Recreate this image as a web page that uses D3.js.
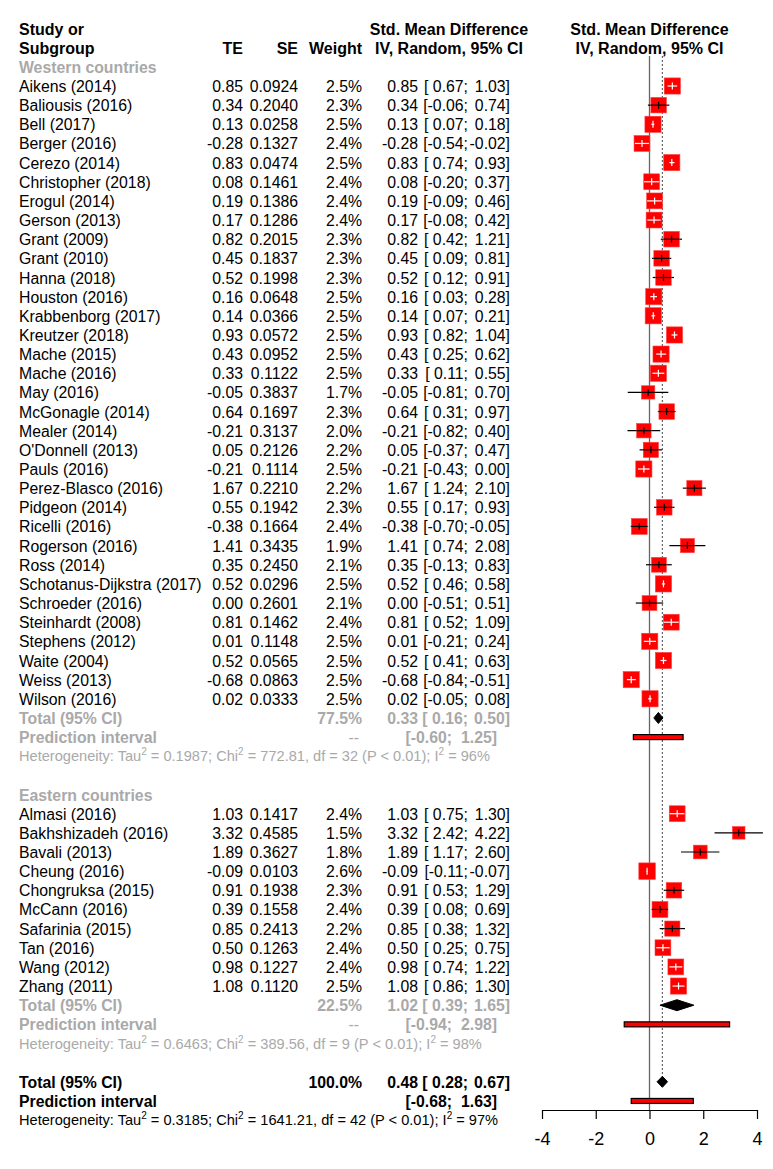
<!DOCTYPE html>
<html>
<head>
<meta charset="utf-8">
<script src="https://cdn.jsdelivr.net/npm/d3@7"></script>
<style>
  body { margin: 0; background: #fff; }
  svg { font-family: "Liberation Sans", Arial, sans-serif; }
</style>
</head>
<body>
<div id="chart"></div>
<script>
// ---- data ----
var westStudies = ["Aikens (2014)", "Baliousis (2016)", "Bell (2017)", "Berger (2016)", "Cerezo (2014)",
  "Christopher (2018)", "Erogul (2014)", "Gerson (2013)", "Grant (2009)", "Grant (2010)", "Hanna (2018)",
  "Houston (2016)", "Krabbenborg (2017)", "Kreutzer (2018)", "Mache (2015)", "Mache (2016)", "May (2016)",
  "McGonagle (2014)", "Mealer (2014)", "O'Donnell (2013)", "Pauls (2016)", "Perez-Blasco (2016)",
  "Pidgeon (2014)", "Ricelli (2016)", "Rogerson (2016)", "Ross (2014)", "Schotanus-Dijkstra (2017)",
  "Schroeder (2016)", "Steinhardt (2008)", "Stephens (2012)", "Waite (2004)", "Weiss (2013)", "Wilson (2016)"];
var westTE = [0.85, 0.34, 0.13, -0.28, 0.83, 0.08, 0.19, 0.17, 0.82, 0.45, 0.52, 0.16, 0.14, 0.93, 0.43, 0.33,
  -0.05, 0.64, -0.21, 0.05, -0.21, 1.67, 0.55, -0.38, 1.41, 0.35, 0.52, 0.00, 0.81, 0.01, 0.52, -0.68, 0.02];
var westSE = [0.0924, 0.2040, 0.0258, 0.1327, 0.0474, 0.1461, 0.1386, 0.1286, 0.2015, 0.1837, 0.1998, 0.0648,
  0.0366, 0.0572, 0.0952, 0.1122, 0.3837, 0.1697, 0.3137, 0.2126, 0.1114, 0.2210, 0.1942, 0.1664, 0.3435,
  0.2450, 0.0296, 0.2601, 0.1462, 0.1148, 0.0565, 0.0863, 0.0333];
var westWeight = [2.5, 2.3, 2.5, 2.4, 2.5, 2.4, 2.4, 2.4, 2.3, 2.3, 2.3, 2.5, 2.5, 2.5, 2.5, 2.5, 1.7, 2.3, 2.0,
  2.2, 2.5, 2.2, 2.3, 2.4, 1.9, 2.1, 2.5, 2.1, 2.4, 2.5, 2.5, 2.5, 2.5];
var westLower = [0.67, -0.06, 0.07, -0.54, 0.74, -0.20, -0.09, -0.08, 0.42, 0.09, 0.12, 0.03, 0.07, 0.82, 0.25,
  0.11, -0.81, 0.31, -0.82, -0.37, -0.43, 1.24, 0.17, -0.70, 0.74, -0.13, 0.46, -0.51, 0.52, -0.21, 0.41, -0.84, -0.05];
var westUpper = [1.03, 0.74, 0.18, -0.02, 0.93, 0.37, 0.46, 0.42, 1.21, 0.81, 0.91, 0.28, 0.21, 1.04, 0.62,
  0.55, 0.70, 0.97, 0.40, 0.47, 0.00, 2.10, 0.93, -0.05, 2.08, 0.83, 0.58, 0.51, 1.09, 0.24, 0.63, -0.51, 0.08];

var eastStudies = ["Almasi (2016)", "Bakhshizadeh (2016)", "Bavali (2013)", "Cheung (2016)", "Chongruksa (2015)",
  "McCann (2016)", "Safarinia (2015)", "Tan (2016)", "Wang (2012)", "Zhang (2011)"];
var eastTE = [1.03, 3.32, 1.89, -0.09, 0.91, 0.39, 0.85, 0.50, 0.98, 1.08];
var eastSE = [0.1417, 0.4585, 0.3627, 0.0103, 0.1938, 0.1558, 0.2413, 0.1263, 0.1227, 0.1120];
var eastWeight = [2.4, 1.5, 1.8, 2.6, 2.3, 2.4, 2.2, 2.4, 2.4, 2.5];
var eastLower = [0.75, 2.42, 1.17, -0.11, 0.53, 0.08, 0.38, 0.25, 0.74, 0.86];
var eastUpper = [1.30, 4.22, 2.60, -0.07, 1.29, 0.69, 1.32, 0.75, 1.22, 1.30];

// pooled: [weight, estimate, lower, upper, pi lower, pi upper, tau2, chi2, df, I2]
var groupNames = ["Western countries", "Eastern countries"];
var westPooled = [77.5, 0.33, 0.16, 0.50, -0.60, 1.25, "0.1987", "772.81", 32, 96];
var eastPooled = [22.5, 1.02, 0.39, 1.65, -0.94, 2.98, "0.6463", "389.56", 9, 98];
var allPooled = [100.0, 0.48, 0.28, 0.67, -0.68, 1.63, "0.3185", "1641.21", 42, 97];

var tickValues = [-4, -2, 0, 2, 4];

// ---- layout ----
var width = 773, height = 1169;
var grey = "#a9a9a9";

var svg = d3.select("#chart").append("svg")
  .attr("width", width)
  .attr("height", height);

// rows: index 0 = first study; header rows are negative
var rows = [];
rows.push({type: "group", label: groupNames[0]});
westStudies.forEach(function(s, i) {
  rows.push({type: "study", label: s, te: westTE[i], se: westSE[i], w: westWeight[i], lo: westLower[i], hi: westUpper[i]});
});
rows.push({type: "total", p: westPooled, sub: true});
rows.push({type: "pi", p: westPooled, sub: true});
rows.push({type: "het", p: westPooled, sub: true});
rows.push({type: "blank"});
rows.push({type: "group", label: groupNames[1]});
eastStudies.forEach(function(s, i) {
  rows.push({type: "study", label: s, te: eastTE[i], se: eastSE[i], w: eastWeight[i], lo: eastLower[i], hi: eastUpper[i]});
});
rows.push({type: "total", p: eastPooled, sub: true});
rows.push({type: "pi", p: eastPooled, sub: true});
rows.push({type: "het", p: eastPooled, sub: true});
rows.push({type: "blank"});
rows.push({type: "total", p: allPooled, sub: false});
rows.push({type: "pi", p: allPooled, sub: false});
rows.push({type: "het", p: allPooled, sub: false});
rows.forEach(function(r, i) { r.idx = i - 1; });

var y = d3.scaleLinear().domain([0, 1]).range([92, 92 + 19.15]);   // text baseline per row
var x = d3.scaleLinear().domain([-4, 4]).range([542, 757]);
var box = d3.scaleSqrt().domain([0, 2.6]).range([0, 16.5]);

var col = {study: 19, te: 243, se: 298, weight: 362, est: 418, lo: 468, hi: 510, ciMid: 449};

var f2 = d3.format(".2f"), f4 = d3.format(".4f"), f1 = d3.format(".1f");
function num(v) { return f2(v).replace("−", "-"); }

// ---- headers ----
var head = svg.append("g").attr("font-weight", "bold").attr("font-size", 16).attr("fill", "#000");
head.append("text").attr("x", col.study).attr("y", y(-3)).text("Study or");
head.append("text").attr("x", col.study).attr("y", y(-2)).text("Subgroup");
head.append("text").attr("x", col.te).attr("y", y(-2)).attr("text-anchor", "end").text("TE");
head.append("text").attr("x", col.se).attr("y", y(-2)).attr("text-anchor", "end").text("SE");
head.append("text").attr("x", col.weight).attr("y", y(-2)).attr("text-anchor", "end").text("Weight");
head.append("text").attr("x", col.ciMid).attr("y", y(-3)).attr("text-anchor", "middle").text("Std. Mean Difference");
head.append("text").attr("x", col.ciMid).attr("y", y(-2)).attr("text-anchor", "middle").text("IV, Random, 95% CI");
head.append("text").attr("x", x(0)).attr("y", y(-3)).attr("text-anchor", "middle").text("Std. Mean Difference");
head.append("text").attr("x", x(0)).attr("y", y(-2)).attr("text-anchor", "middle").text("IV, Random, 95% CI");

// ---- reference lines ----
var totalRow = rows[rows.length - 3];
svg.append("line")
  .attr("x1", x(0)).attr("x2", x(0))
  .attr("y1", 56).attr("y2", 1110)
  .attr("stroke", "#666").attr("stroke-width", 1.3);
svg.append("line")
  .attr("x1", x(allPooled[1])).attr("x2", x(allPooled[1]))
  .attr("y1", 56).attr("y2", y(totalRow.idx) - 6)
  .attr("stroke", "#666").attr("stroke-width", 1.2)
  .attr("stroke-dasharray", "2,2");

// ---- table text ----
var tbl = svg.append("g").attr("font-size", 15.8);

function ciText(g, yy, est, lo, hi) {
  if (est !== null) g.append("text").attr("x", col.est).attr("y", yy).attr("text-anchor", "end").text(num(est));
  g.append("text").attr("x", col.lo).attr("y", yy).attr("text-anchor", "end").text("[" + (lo >= 0 ? " " : "") + num(lo) + ";");
  g.append("text").attr("x", col.hi).attr("y", yy).attr("text-anchor", "end").text(num(hi) + "]");
}

rows.forEach(function(r) {
  var yy = y(r.idx);
  if (r.type === "group") {
    tbl.append("text").attr("x", col.study).attr("y", yy)
      .attr("font-weight", "bold").attr("fill", grey).text(r.label);
  } else if (r.type === "study") {
    var g = tbl.append("g").attr("fill", "#000");
    g.append("text").attr("x", col.study).attr("y", yy).text(r.label);
    g.append("text").attr("x", col.te).attr("y", yy).attr("text-anchor", "end").text(num(r.te));
    g.append("text").attr("x", col.se).attr("y", yy).attr("text-anchor", "end").text(f4(r.se));
    g.append("text").attr("x", col.weight).attr("y", yy).attr("text-anchor", "end").text(f1(r.w) + "%");
    ciText(g, yy, r.te, r.lo, r.hi);
  } else if (r.type === "total") {
    var g2 = tbl.append("g").attr("font-weight", "bold").attr("fill", r.sub ? grey : "#000");
    g2.append("text").attr("x", col.study).attr("y", yy).text("Total (95% CI)");
    g2.append("text").attr("x", col.weight).attr("y", yy).attr("text-anchor", "end").text(f1(r.p[0]) + "%");
    ciText(g2, yy, r.p[1], r.p[2], r.p[3]);
  } else if (r.type === "pi") {
    var g3 = tbl.append("g").attr("font-weight", "bold").attr("fill", r.sub ? grey : "#000");
    g3.append("text").attr("x", col.study).attr("y", yy).text("Prediction interval");
    if (r.sub) g3.append("text").attr("x", col.weight - 3).attr("y", yy).attr("text-anchor", "end")
      .attr("font-weight", "normal").text("--");
    g3.append("text").attr("x", col.lo - 16).attr("y", yy).attr("text-anchor", "end").text("[" + num(r.p[4]) + ";");
    g3.append("text").attr("x", col.hi - 13).attr("y", yy).attr("text-anchor", "end").text(num(r.p[5]) + "]");
  } else if (r.type === "het") {
    var t = tbl.append("text").attr("x", col.study).attr("y", yy - 1)
      .attr("font-size", 14.6).attr("fill", r.sub ? grey : "#000");
    t.append("tspan").text("Heterogeneity: Tau");
    t.append("tspan").attr("dy", -6).attr("font-size", 10).text("2");
    t.append("tspan").attr("dy", 6).text(" = " + r.p[6] + "; Chi");
    t.append("tspan").attr("dy", -6).attr("font-size", 10).text("2");
    t.append("tspan").attr("dy", 6).text(" = " + r.p[7] + ", df = " + r.p[8] + " (P < 0.01); I");
    t.append("tspan").attr("dy", -6).attr("font-size", 10).text("2");
    t.append("tspan").attr("dy", 6).text(" = " + r.p[9] + "%");
  }
});

// ---- forest marks ----
var plot = svg.append("g");
var studies = rows.filter(function(r) { return r.type === "study"; });

studies.forEach(function(r) {
  var cy = y(r.idx) - 6;
  var s = box(r.w);
  var x0 = x(r.te);
  var inside = (x(r.lo) >= x0 - s / 2) && (x(r.hi) <= x0 + s / 2);
  plot.append("line")
    .attr("x1", x(r.lo)).attr("x2", x(r.hi)).attr("y1", cy).attr("y2", cy)
    .attr("stroke", "#000").attr("stroke-width", 1.2);
  plot.append("rect")
    .attr("x", x0 - s / 2).attr("y", cy - s / 2)
    .attr("width", s).attr("height", s)
    .attr("fill", "#ff0000").attr("stroke", "#ff4040").attr("stroke-width", 0.6);
  var c = inside ? "#fff" : "#000";
  plot.append("line")
    .attr("x1", inside ? x(r.lo) : Math.max(x(r.lo), x0 - s / 2))
    .attr("x2", inside ? x(r.hi) : Math.min(x(r.hi), x0 + s / 2))
    .attr("y1", cy).attr("y2", cy)
    .attr("stroke", c).attr("stroke-width", 1.2);
  plot.append("line")
    .attr("x1", x0).attr("x2", x0).attr("y1", cy - 3.5).attr("y2", cy + 3.5)
    .attr("stroke", c).attr("stroke-width", 1.2);
});

rows.filter(function(r) { return r.type === "total"; }).forEach(function(r) {
  var cy = y(r.idx) - 6;
  var pts = [[x(r.p[2]), cy], [x(r.p[1]), cy - 5.5], [x(r.p[3]), cy], [x(r.p[1]), cy + 5.5]];
  plot.append("path")
    .attr("d", d3.line()(pts) + "Z")
    .attr("fill", "#000").attr("stroke", "#000").attr("stroke-width", 1);
});

rows.filter(function(r) { return r.type === "pi"; }).forEach(function(r) {
  var cy = y(r.idx) - 6;
  plot.append("rect")
    .attr("x", x(r.p[4])).attr("y", cy - 2.5)
    .attr("width", x(r.p[5]) - x(r.p[4])).attr("height", 5)
    .attr("fill", "#ff0000").attr("stroke", "#000").attr("stroke-width", 1.2);
});

// ---- axis ----
var axis = svg.append("g")
  .attr("transform", "translate(0,1110)")
  .call(d3.axisBottom(x).tickValues(tickValues).tickSize(9).tickSizeOuter(0).tickPadding(13)
    .tickFormat(function(d) { return String(d); }));
axis.select(".domain").attr("stroke", "#000").attr("stroke-width", 1.2);
axis.selectAll(".tick line").attr("stroke", "#000").attr("stroke-width", 1.2);
axis.selectAll(".tick text")
  .attr("font-family", "Liberation Sans, Arial, sans-serif")
  .attr("font-size", 18).attr("fill", "#000");
</script>
</body>
</html>
